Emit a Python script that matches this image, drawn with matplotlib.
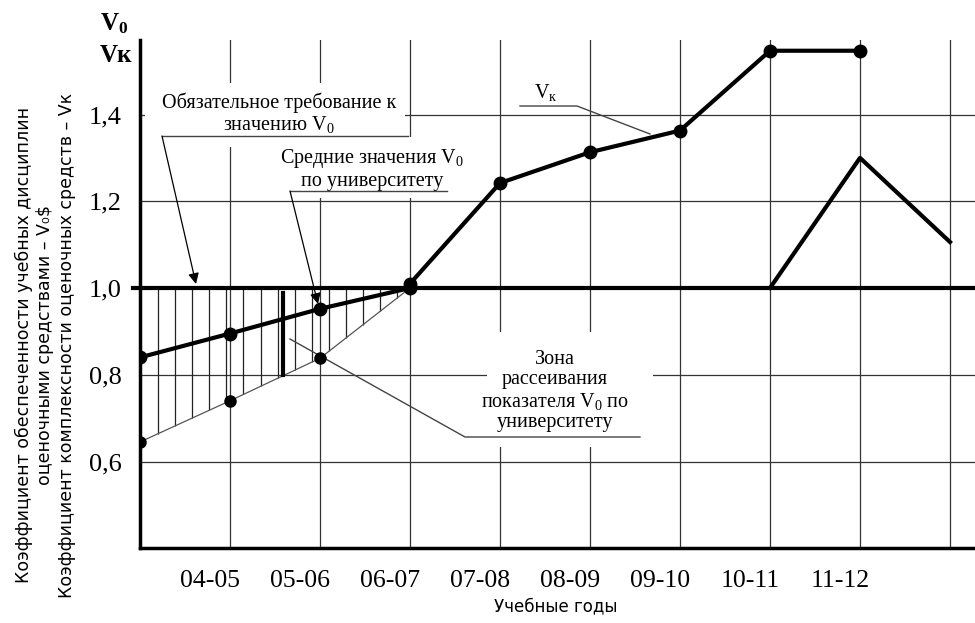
import numpy as np
import matplotlib
matplotlib.use("Agg")
import matplotlib.pyplot as plt
from matplotlib.transforms import ScaledTranslation
from matplotlib.patches import Rectangle

# ---------------- data ----------------
tick_pos = [1, 2, 3, 4, 5, 6, 7, 8]
tick_labels = ["04-05", "05-06", "06-07", "07-08", "08-09", "09-10", "10-11", "11-12"]
grid_x = [1, 2, 3, 4, 5, 6, 7, 8, 9]
grid_y = [0.6, 0.8, 1.0, 1.2, 1.4]
ytick_labels = ["0,6", "0,8", "1,0", "1,2", "1,4"]

required_v0 = 1.0
v0_mean_x = [0, 1, 2, 3]
v0_mean = [0.840, 0.895, 0.952, 1.000]
v0_low_x = [0, 1, 2, 3]
v0_low = [0.645, 0.740, 0.838, 1.000]
vk_x = [3, 4, 5, 6, 7, 8]
vk = [1.010, 1.242, 1.313, 1.363, 1.547, 1.547]
v0_late_x = [7, 8, 9]
v0_late = [1.000, 1.300, 1.106]
spread_bar_x = 1.59
spread_bar = [0.800, 0.988]

# ---------------- style ----------------
plt.rcParams["mathtext.fontset"] = "custom"
plt.rcParams["mathtext.rm"] = "Liberation Serif"
plt.rcParams["mathtext.it"] = "Liberation Serif:italic"
plt.rcParams["mathtext.bf"] = "Liberation Serif:bold"
SERIF = ["Liberation Serif", "DejaVu Serif"]

W, H = 975, 623
fig = plt.figure(figsize=(W / 100, H / 100), dpi=100)
L, R, B, T = 140, 975, 548, 40
ax = fig.add_axes([L / W, 1 - B / H, (R - L) / W, (B - T) / H])
XS = 90.0     # px per unit
YS = 433.75   # px per unit
ax.set_xlim(0, (R - L) / XS)
ax.set_ylim(1.0 - (B - 288) / YS, 1.0 + (288 - T) / YS)


def d(px, py):
    return ((px - L) / XS, 1.0 + (288 - py) / YS)


for s in ["top", "right"]:
    ax.spines[s].set_visible(False)
for s in ["left", "bottom"]:
    ax.spines[s].set_linewidth(2.5)
    ax.spines[s].set_color("black")

# grid
for gx in grid_x:
    ax.axvline(gx, color="#333333", lw=0.9, zorder=1)
for gy in grid_y:
    ax.axhline(gy, color="#333333", lw=0.9, zorder=1)

# ticks
ax.set_xticks(tick_pos)
ax.set_xticklabels(tick_labels, fontsize=18.5, family=SERIF)
ax.set_yticks(grid_y)
ax.set_yticklabels(ytick_labels, fontsize=19, family=SERIF)
ax.tick_params(axis="x", length=0, pad=16)
ax.tick_params(axis="y", length=0, pad=13)
for lbl in ax.get_xticklabels():
    lbl.set_transform(lbl.get_transform() + ScaledTranslation(-0.2, 0, fig.dpi_scale_trans))

# hatch of scatter zone
hx = np.arange(0.2, 2.95, 0.19)
ax.vlines(hx, np.interp(hx, v0_low_x, v0_low), required_v0, color="#222222", lw=0.9, zorder=2)
ax.plot(v0_low_x, v0_low, color="#555555", lw=0.9, zorder=2)
ax.plot(v0_low_x, v0_low, "o", color="black", ms=8, zorder=6)

# white boxes behind annotation texts
for (x0, y0, x1, y1) in [(145, 83, 405, 147), (285, 137, 452, 198), (487, 332, 653, 447)]:
    a = d(x0, y1)
    b = d(x1, y0)
    ax.add_patch(Rectangle(a, b[0] - a[0], b[1] - a[1], facecolor="white",
                           edgecolor="none", zorder=3))

# required line
ax.plot([-0.08, (R - L) / XS], [required_v0, required_v0], color="black", lw=3,
        zorder=5, clip_on=False)

# mean V0
ax.plot(v0_mean_x, v0_mean, color="black", lw=3, marker="o", ms=9, zorder=6)
# Vk
ax.plot(vk_x, vk, color="black", lw=3, marker="o", ms=9, zorder=6)
# later V0
ax.plot(v0_late_x, v0_late, color="black", lw=3, zorder=6)
# spread bar
ax.plot([spread_bar_x, spread_bar_x], spread_bar, color="black", lw=3, zorder=6)

# ---------------- annotations ----------------
tk = dict(fontsize=14.5, family=SERIF, ha="center", va="center", zorder=4,
          linespacing=1.08)
ax.text(*d(279, 114), "Обязательное требование к\nзначению V$_0$", **tk)
ax.plot(*zip(d(162, 136), d(408, 136)), color="#444444", lw=1, zorder=4)
ax.annotate("", xy=d(196, 284), xytext=d(162, 136),
            arrowprops=dict(arrowstyle="-|>", color="black", lw=0.9,
                            mutation_scale=16, shrinkA=0, shrinkB=0), zorder=7)

ax.text(*d(372, 169), "Средние значения V$_0$\nпо университету", **tk)
ax.plot(*zip(d(290, 191), d(447, 191)), color="#444444", lw=1, zorder=4)
ax.annotate("", xy=d(318, 304), xytext=d(290, 191),
            arrowprops=dict(arrowstyle="-|>", color="black", lw=0.9,
                            mutation_scale=16, shrinkA=0, shrinkB=0), zorder=7)

ax.text(*d(546, 92), "V$_{\\mathrm{к}}$", **tk)
ax.plot(*zip(d(520, 106), d(577, 106), d(650, 134)), color="#444444", lw=1, zorder=4)

ax.text(*d(555, 391), "Зона\nрассеивания\nпоказателя V$_0$ по\nуниверситету",
        **{**tk, "linespacing": 1.1})
ax.plot(*zip(d(290, 339), d(465, 437), d(640, 437)), color="#444444", lw=1, zorder=4)

# top-left axis captions
fig.text(100 / W, 1 - 24 / H, "V$_\\mathbf{0}$", fontsize=18, fontweight="bold",
         family=SERIF, ha="left", va="center")
fig.text(100 / W, 1 - 56 / H, "Vк", fontsize=18, fontweight="bold",
         family=SERIF, ha="left", va="center")

# y label (three lines)
fig.text(45 / W, 1 - 345 / H,
         "Коэффициент обеспеченности учебных дисциплин\n"
         "оценочными средствами – V₀$\n"
         "Коэффициент комплексности оценочных средств – Vк",
         rotation=90, fontsize=12.5, family=["DejaVu Sans"], ha="center", va="center",
         multialignment="center", linespacing=1.25)

fig.text(556 / W, 1 - 606 / H, "Учебные годы", fontsize=12, family=["DejaVu Sans"],
         ha="center", va="center")

fig.savefig("out.png", dpi=100)
